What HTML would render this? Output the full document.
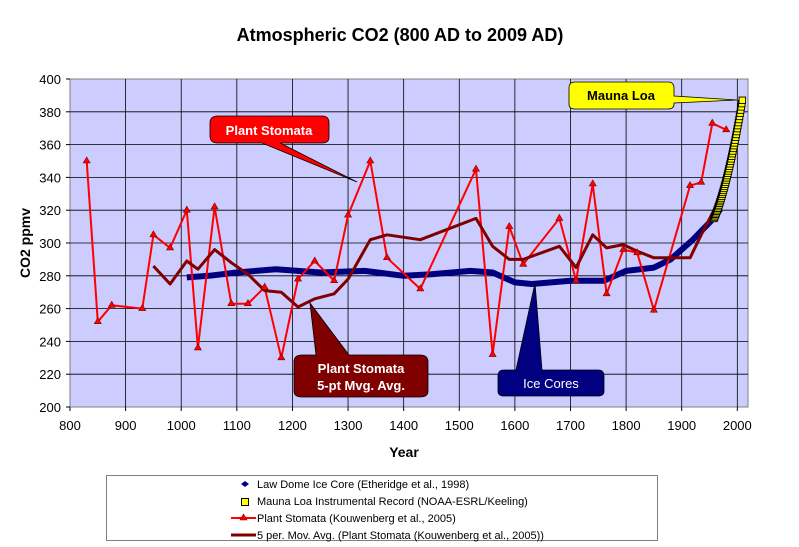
<!DOCTYPE html>
<html><head><style>body{margin:0;background:#fff}svg{display:block}text{font-family:"Liberation Sans",Arial,sans-serif}</style></head><body>
<svg width="799" height="547" viewBox="0 0 799 547" xmlns="http://www.w3.org/2000/svg">
<text x="400" y="41" text-anchor="middle" font-size="18" font-weight="bold">Atmospheric CO2 (800 AD to 2009 AD)</text>
<rect x="70" y="79" width="678" height="328" fill="#ccccff" stroke="#808080"/>
<g stroke="#000" stroke-width="0.8" id="grid"></g>
<g id="ticks" font-size="13"></g>
<text transform="translate(30,243) rotate(-90)" text-anchor="middle" font-size="14" font-weight="bold">CO2 ppmv</text>
<text x="404" y="457" text-anchor="middle" font-size="14" font-weight="bold">Year</text>
<g id="series"></g>
<path d="M218,116 H322 Q329,116 329,123 V137 Q329,143 322,143 H280 L357,182 L262,143 H218 Q210,143 210,136 V123 Q210,116 218,116Z" fill="#ff0000" stroke="#000" stroke-width="0.8"/>
<text x="269" y="135" text-anchor="middle" font-size="13" font-weight="bold" fill="#fff">Plant Stomata</text>
<path d="M310,303 L349,355 H420 Q428,355 428,362 V391 Q428,397 420,397 H302 Q294,397 294,391 V362 Q294,355 302,355 H316Z" fill="#800000" stroke="#000" stroke-width="0.8"/>
<text x="361" y="373" text-anchor="middle" font-size="13" font-weight="bold" fill="#fff">Plant Stomata</text>
<text x="361" y="390" text-anchor="middle" font-size="13" font-weight="bold" fill="#fff">5-pt Mvg. Avg.</text>
<path d="M535,283 L542,370 H598 Q604,370 604,376 V391 Q604,396 598,396 H504 Q498,396 498,391 V376 Q498,370 504,370 H516Z" fill="#000080" stroke="#000" stroke-width="0.8"/>
<text x="551" y="388" text-anchor="middle" font-size="13" fill="#fff">Ice Cores</text>
<path d="M575,82 H668 Q674,82 674,88 V96 L737,100 L674,103 V104 Q674,109 668,109 H575 Q569,109 569,104 V88 Q569,82 575,82Z" fill="#ffff00" stroke="#000" stroke-width="0.8"/>
<text x="621" y="100" text-anchor="middle" font-size="13" font-weight="bold" fill="#000">Mauna Loa</text>
<rect x="106.5" y="475.5" width="551" height="65" fill="#fff" stroke="#808080"/>
<g font-size="11">
<path d="M245,481 l4,3 l-4,3 l-4,-3z" fill="#000080"/>
<text x="257" y="488">Law Dome Ice Core (Etheridge et al., 1998)</text>
<rect x="241.5" y="498.5" width="7" height="7" fill="#ffff00" stroke="#000"/>
<text x="257" y="505">Mauna Loa Instrumental Record (NOAA-ESRL/Keeling)</text>
<line x1="231" y1="518" x2="256" y2="518" stroke="#ff0000" stroke-width="2"/>
<path d="M243.5,514 l3.5,6 h-7z" fill="#ff0000" stroke="#800000" stroke-width="0.6"/>
<text x="257" y="522">Plant Stomata (Kouwenberg et al., 2005)</text>
<line x1="231" y1="535" x2="256" y2="535" stroke="#800000" stroke-width="3"/>
<text x="257" y="539">5 per. Mov. Avg. (Plant Stomata (Kouwenberg et al., 2005))</text>
</g>
<script>
var NS="http://www.w3.org/2000/svg";
function X(y){return 70+(y-800)*0.5561}
function Y(v){return 407-(v-200)*1.64}
function el(p,t,a,txt){var e=document.createElementNS(NS,t);for(var k in a)e.setAttribute(k,a[k]);if(txt)e.textContent=txt;document.getElementById(p).appendChild(e);return e}
for(var yr=900;yr<=2000;yr+=100)el("grid","line",{x1:X(yr),x2:X(yr),y1:79,y2:407});
for(var v=220;v<=380;v+=20)el("grid","line",{x1:70,x2:748,y1:Y(v),y2:Y(v)});
for(var yr=800;yr<=2000;yr+=100){el("ticks","line",{x1:X(yr),x2:X(yr),y1:407,y2:411,stroke:"#000"});el("ticks","text",{x:X(yr),y:430,"text-anchor":"middle"},""+yr)}
for(var v=200;v<=400;v+=20){el("ticks","line",{x1:66,x2:70,y1:Y(v),y2:Y(v),stroke:"#000"});el("ticks","text",{x:61,y:Y(v)+5,"text-anchor":"end"},""+v)}
function pts(a){return a.map(function(p){return X(p[0]).toFixed(1)+","+Y(p[1]).toFixed(1)}).join(" ")}
var ice=[[1010,279],[1050,280],[1100,282],[1170,284],[1250,282],[1330,283],[1400,280],[1450,281],[1520,283],[1560,282],[1600,276],[1630,275],[1700,277],[1760,277],[1800,283],[1850,285],[1880,290],[1920,302],[1960,316],[1970,321]];
el("series","polyline",{points:pts(ice),fill:"none",stroke:"#000080","stroke-width":6,"stroke-linejoin":"round"});
var ps=[[830,350],[850,252],[875,262],[930,260],[950,305],[980,297],[1010,320],[1030,236],[1060,322],[1090,263],[1120,263],[1150,273],[1180,230],[1210,278],[1240,289],[1275,277],[1300,317],[1340,350],[1370,291],[1430,272],[1530,345],[1560,232],[1590,310],[1615,287],[1680,315],[1710,277],[1740,336],[1765,269],[1795,296],[1820,294],[1850,259],[1915,335],[1935,337],[1955,373],[1980,369]];
el("series","polyline",{points:pts(ps),fill:"none",stroke:"#ff0000","stroke-width":2});
var ma=[[950,286],[980,275],[1010,289],[1030,284],[1060,296],[1090,288],[1120,281],[1150,271],[1180,270],[1210,261],[1240,266],[1275,269],[1300,278],[1340,302],[1370,305],[1430,302],[1530,315],[1560,298],[1590,290],[1615,290],[1680,298],[1710,285],[1740,305],[1765,297],[1795,299],[1820,295],[1850,291],[1915,291],[1935,305],[1955,318],[1980,333]];
el("series","polyline",{points:pts(ma),fill:"none",stroke:"#800000","stroke-width":3,"stroke-linejoin":"round"});
ps.forEach(function(p){var x=X(p[0]),y=Y(p[1]);el("series","path",{d:"M"+x+","+(y-4)+" l3.5,6 h-7z",fill:"#ff0000",stroke:"#800000","stroke-width":0.6})});
for(var yr=1958;yr<=2009;yr++){var t=yr-1958,v=315+0.8*t+0.012*t*t;el("series","rect",{x:X(yr)-3.25,y:Y(v)-3.25,width:6.5,height:6.5,fill:"#ffff00",stroke:"#000","stroke-width":0.9})}
</script>
</svg>
</body></html>
